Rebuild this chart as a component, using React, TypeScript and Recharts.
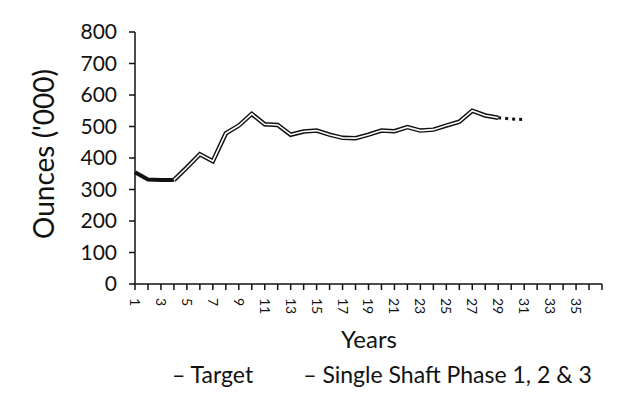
import React from "react";
import { LineChart, Line, XAxis, YAxis, Customized } from "recharts";

const years: number[] = Array.from({ length: 37 }, (_, i) => i + 1);
const targetValues: (number | null)[] = [355, 332, 330, 330];
const shaftYears: number[] = [4, 5, 6, 7, 8, 9, 10, 11, 12, 13, 14, 15, 16, 17, 18, 19, 20, 21, 22, 23, 24, 25, 26, 27, 28, 29];
const shaftValues: number[] = [330, 370, 412, 390, 478, 503, 540, 507, 505, 474, 484, 487, 474, 464, 463, 474, 487, 485, 498, 487, 490, 503, 515, 550, 535, 528];
const tailYears: number[] = [29, 30, 31];
const tailValues: number[] = [528, 524, 522];
const yTicks: number[] = [0, 100, 200, 300, 400, 500, 600, 700, 800];
const legendLabels: string[] = ["Target", "Single Shaft Phase 1, 2 & 3"];

const data = years.map((yr, i) => {
  const si = shaftYears.indexOf(yr);
  const ti = tailYears.indexOf(yr);
  return {
    year: yr,
    target: i < targetValues.length ? targetValues[i] : null,
    shaft: si >= 0 ? shaftValues[si] : null,
    tail: ti >= 0 ? tailValues[ti] : null,
  };
});

const FONT = "Lato, 'Open Sans', sans-serif";

const XTick = (props: any) => {
  const { x, y, payload } = props;
  const v = payload.value;
  if (v % 2 === 0 || v > 35) return null;
  return (
    <text
      x={0}
      y={0}
      transform={`translate(${x},${y + 6}) rotate(90)`}
      textAnchor="start"
      dy="0.36em"
      fontSize={14}
      fontFamily={FONT}
      fill="#111"
    >
      {v}
    </text>
  );
};

const Texts = () => (
  <g fontFamily={FONT} fill="#111">
    <text x={43} y={154} transform="rotate(-90 43 154)" textAnchor="middle" dominantBaseline="central" fontSize={28}>
      Ounces ('000)
    </text>
    <text x={369} y={348} textAnchor="middle" fontSize={24}>
      Years
    </text>
  </g>
);

export default function App() {
  return (
    <div style={{ position: "relative", width: 626, height: 404, marginLeft: -8, marginTop: -8, background: "#fff", overflow: "hidden" }}>
      <div style={{ position: "absolute", left: 0, top: 0 }}>
        <LineChart width={626} height={404} data={data} margin={{ top: 32, right: 24, left: 75, bottom: 80 }}>
          <XAxis
            dataKey="year"
            type="number"
            domain={[1, 37]}
            ticks={years}
            interval={0}
            tick={<XTick />}
            tickSize={6}
            tickLine={{ stroke: "#111", strokeWidth: 1.5 }}
            axisLine={{ stroke: "#111", strokeWidth: 1.5 }}
            height={40}
          />
          <YAxis
            domain={[0, 800]}
            ticks={yTicks}
            interval={0}
            width={60}
            tickSize={6}
            tickMargin={12}
            tick={{ fontSize: 21, fill: "#111", fontFamily: FONT }}
            tickLine={{ stroke: "#111", strokeWidth: 1.5 }}
            axisLine={{ stroke: "#111", strokeWidth: 1.5 }}
          />
          <Line dataKey="target" stroke="#111" strokeWidth={4} dot={false} isAnimationActive={false} connectNulls={false} />
          <Line dataKey="shaft" stroke="#111" strokeWidth={4.5} dot={false} isAnimationActive={false} />
          <Line dataKey="shaft" stroke="#fff" strokeWidth={1.6} dot={false} isAnimationActive={false} />
          <Line dataKey="tail" stroke="#111" strokeWidth={3} strokeDasharray="3 4" dot={false} isAnimationActive={false} />
          <Customized component={Texts} />
        </LineChart>
      </div>
      <div style={{ position: "absolute", left: 172, top: 360, fontFamily: FONT, fontSize: 23, color: "#111", whiteSpace: "nowrap" }}>
        <span>– {legendLabels[0]}</span>
        <span style={{ marginLeft: 50 }}>– {legendLabels[1]}</span>
      </div>
      <div style={{ position: "absolute", left: 5, top: 5, width: 2, height: 399, background: "#222", zIndex: 20 }} />
      <div style={{ position: "absolute", left: 5, top: 5, width: 621, height: 2, background: "#222", zIndex: 20 }} />
    </div>
  );
}
